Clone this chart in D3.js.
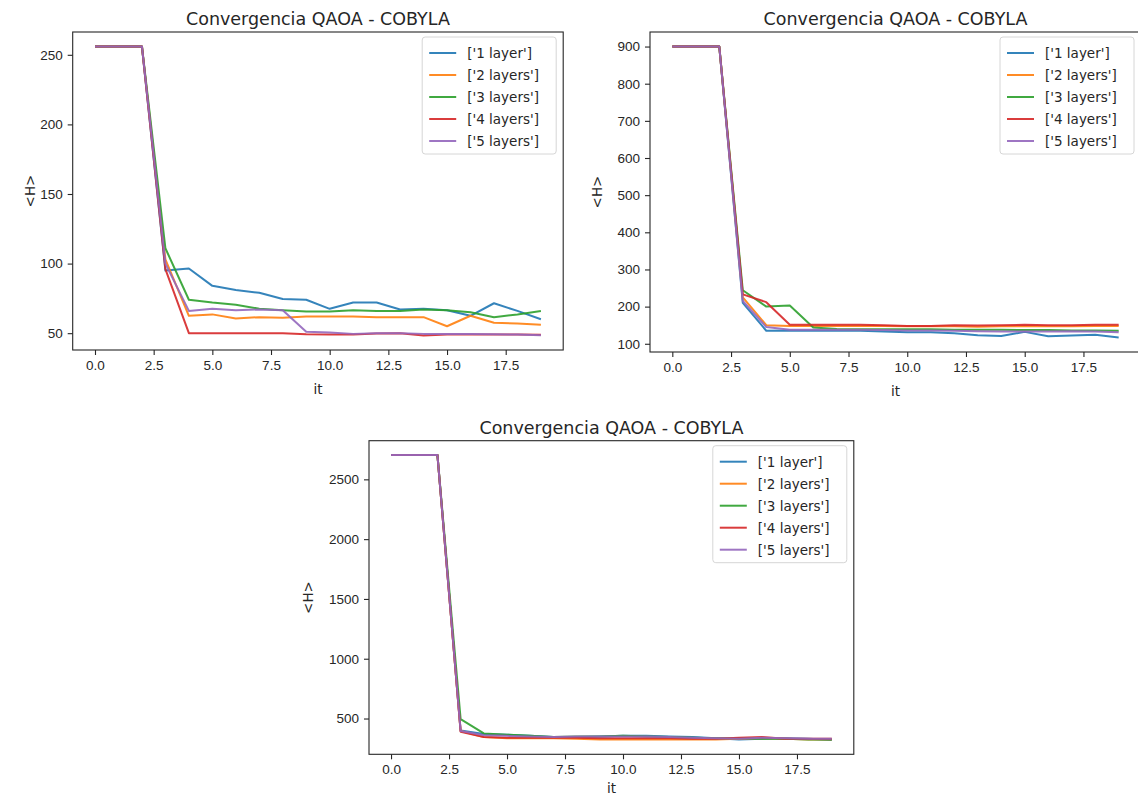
<!DOCTYPE html>
<html>
<head>
<meta charset="utf-8">
<script src="https://cdn.jsdelivr.net/npm/d3@7"></script>
<style>
  body { margin: 0; background: #fff; }
  svg { display: block; font-family: "DejaVu Sans", sans-serif; }
  .tick text { fill: #262626; }
</style>
</head>
<body>
<svg id="chart" width="1138" height="798"></svg>
<script>
// iterations on the x axis
var its = [0,1,2,3,4,5,6,7,8,9,10,11,12,13,14,15,16,17,18,19];
var names = ["['1 layer']","['2 layers']","['3 layers']","['4 layers']","['5 layers']"];
var colors = ["#1f77b4","#ff7f0e","#2ca02c","#d62728","#9467bd"];

// panel 1 (top left)
var a1 = [256,256,256,95,96.5,84,81,79,74.5,74,67.5,72,72,67,67.5,66.5,62.5,71.5,66,60];
var a2 = [256,256,256,103,62.5,63.5,60.5,61.5,61,62,62,62,61.5,61.5,61.5,55,62.5,57.5,57,56];
var a3 = [256,256,256,111,74,72,70.5,67.5,66.5,65.5,65.5,66.5,66,66,67,66.5,65,61.5,63.5,66];
var a4 = [256,256,256,96,50,50,50,50,50,49.3,49,49,49.8,50,48.3,49,49,49,49,48.8];
var a5 = [256,256,256,100,66,67.5,66.5,67,66.5,51,50.5,49.5,50,50,49.5,49.5,49.5,49.3,49,48.6];

// panel 2 (top right)
var b1 = [900,900,900,210,135,136,135,135,135,133,131,131,128,123,121,132,120,122,124,117];
var b2 = [900,900,900,225,150,148,148,148,148,148,147,147,147,146,147,147,147,147,148,148];
var b3 = [900,900,900,244,200,203,144,140,139,139,139,139,138,138,138,137,137,136,136,135];
var b4 = [900,900,900,233,212,151,151,151,151,150,148,148,150,149,150,151,150,150,151,151];
var b5 = [900,900,900,215,145,138,138,138,138,137,136,136,135,134,133,133,133,134,133,131];

// panel 3 (bottom)
var c1 = [2704,2704,2704,400,370,365,355,345,345,350,355,355,350,345,335,325,330,335,330,320];
var c2 = [2704,2704,2704,395,345,335,335,335,330,325,325,325,325,325,325,330,335,330,325,325];
var c3 = [2704,2704,2704,495,375,365,355,345,350,350,355,350,345,340,335,335,330,330,325,325];
var c4 = [2704,2704,2704,390,345,340,340,340,340,335,335,335,335,330,330,340,345,330,330,330];
var c5 = [2704,2704,2704,395,360,355,350,345,350,350,350,350,345,340,335,330,340,335,330,330];

var title = "Convergencia QAOA - COBYLA";

var panels = [
  {series:[a1,a2,a3,a4,a5], box:{l:72.7,t:32,w:490.5,h:318}, ylab:-38, xlab:44, yticks:[50,100,150,200,250]},
  {series:[b1,b2,b3,b4,b5], box:{l:650,t:32,w:491,h:320}, ylab:-48, xlab:44, yticks:[100,200,300,400,500,600,700,800,900]},
  {series:[c1,c2,c3,c4,c5], box:{l:369,t:440.7,w:484.8,h:313.6}, ylab:-56, xlab:39, yticks:[500,1000,1500,2000,2500]}
];

var svg = d3.select("#chart");
var fs = 13.5;

panels.forEach(function(p){
  var b = p.box;
  var g = svg.append("g").attr("transform","translate("+b.l+","+b.t+")");

  var all = d3.merge(p.series);
  var ymin = d3.min(all), ymax = d3.max(all), pad = (ymax-ymin)*0.05;
  var xpad = (d3.max(its)-d3.min(its))*0.05;

  var X = d3.scaleLinear().domain([d3.min(its)-xpad, d3.max(its)+xpad]).range([0,b.w]);
  var Y = d3.scaleLinear().domain([ymin-pad, ymax+pad]).range([b.h,0]);

  var line = d3.line().x(function(d,i){return X(its[i])}).y(function(d){return Y(d)});

  g.selectAll(".ln").data(p.series).enter().append("path")
    .attr("class","ln")
    .attr("d",line)
    .style("fill","none")
    .style("stroke",function(d,i){return colors[i]})
    .style("stroke-width",2)
    .style("stroke-linejoin","round")
    .style("opacity",0.9);

  var xa = g.append("g").attr("transform","translate(0,"+b.h+")")
    .call(d3.axisBottom(X).tickValues([0,2.5,5,7.5,10,12.5,15,17.5]).tickFormat(d3.format(".1f")).tickSize(5).tickPadding(5));
  var ya = g.append("g")
    .call(d3.axisLeft(Y).tickValues(p.yticks).tickFormat(d3.format("d")).tickSize(5).tickPadding(5));
  [xa,ya].forEach(function(a){
    a.select(".domain").remove();
    a.selectAll("text").style("font-size",fs+"px").attr("fill","#262626");
    a.selectAll("line").attr("stroke","#262626").attr("stroke-width",1.1);
  });

  g.append("rect").attr("width",b.w).attr("height",b.h)
    .style("fill","none").style("stroke","#262626").style("stroke-width",1.1);

  g.append("text").attr("x",b.w/2).attr("y",-7).attr("text-anchor","middle")
    .style("font-size","17.5px").attr("fill","#262626").text(title);

  g.append("text").attr("x",b.w/2).attr("y",b.h+p.xlab).attr("text-anchor","middle")
    .style("font-size",fs+"px").attr("fill","#262626").text("it");

  g.append("text").attr("transform","translate("+p.ylab+","+(b.h/2)+") rotate(-90)")
    .attr("text-anchor","middle").style("font-size",fs+"px").attr("fill","#262626").text("<H>");

  // legend, upper right
  var lw = 134, lh = 117, rowh = 22;
  var leg = g.append("g").attr("transform","translate("+(b.w-lw-7)+",5)");
  leg.append("rect").attr("width",lw).attr("height",lh).attr("rx",3)
    .style("fill","#fff").style("fill-opacity",0.8).style("stroke","#d6d6d6").style("stroke-width",1);
  var items = leg.selectAll(".it").data(names).enter().append("g")
    .attr("transform",function(d,i){return "translate(0,"+(16+i*rowh)+")"});
  items.append("line").attr("x1",7).attr("x2",34).attr("y1",0).attr("y2",0)
    .style("stroke",function(d,i){return colors[i]}).style("stroke-width",2).style("opacity",0.9);
  items.append("text").attr("x",45).attr("y",5).style("font-size",fs+"px").attr("fill","#262626").text(function(d){return d});
});
</script>
</body>
</html>
